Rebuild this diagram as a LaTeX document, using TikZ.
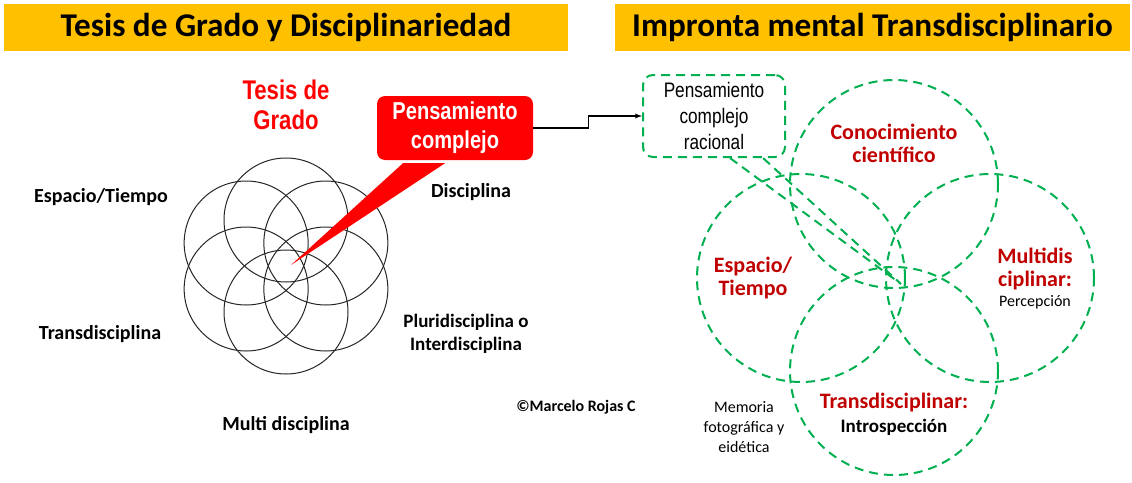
\documentclass[tikz,border=0pt]{standalone}
\usepackage{fontspec}
\setmainfont{Carlito}
\newfontfamily\narrowfont[FakeStretch=0.82]{Liberation Sans}
\usetikzlibrary{positioning}
\usetikzlibrary{arrows}
\definecolor{barYellow}{HTML}{FFC000}
\definecolor{darkRed}{HTML}{C00000}
\definecolor{dashGreen}{HTML}{00B050}
\tikzset{
        % Yellow title bars
        title_bar/.style={fill=barYellow, minimum height=47pt, inner sep=0pt, font=\bfseries\fontsize{33.2}{36}\selectfont},
        % Black labels of the left part
        label_left/.style={align=center, inner sep=0pt, font=\bfseries\fontsize{20}{23}\selectfont},
        % Red labels of the right part
        label_red/.style={align=center, inner sep=0pt, text=darkRed, font=\bfseries\fontsize{22}{23}\selectfont},
        % Plain small labels
        label_small/.style={align=center, inner sep=0pt, font=\fontsize{16}{20}\selectfont},
        % Flower circles
        flower_circle/.style={draw=black!85, line width=1pt},
        % Green dashed lines
        green_dash/.style={draw=dashGreen, line width=2pt, dash pattern=on 9pt off 6pt},
        % Green dashed circles
        idea_circle/.style={green_dash, circle, minimum size=208pt, inner sep=0pt}
}
\begin{document}
\begin{tikzpicture}[x=1pt, y=-1pt]
    \useasboundingbox (0,0) rectangle (1132,482);
    % titles
    \node[title_bar, minimum width=564pt] (bar_left) at (286,27.5) {Tesis de Grado y Disciplinariedad};
    \node[title_bar, minimum width=515pt] (bar_right) at (872.5,27.5) {Impronta mental Transdisciplinario};

    % left part
    \foreach \a in {30,90,...,330}
        \draw[flower_circle] (286,266) ++(\a:46 and -46) circle (62);
    \node[align=center, inner sep=0pt, text=red, font=\narrowfont\bfseries\fontsize{27}{30}\selectfont] (tesis) at (286,105) {Tesis de\\Grado};
    \node[label_left] (espacio_l) at (101,197) {Espacio/Tiempo};
    \node[label_left] (disciplina) at (471,192) {Disciplina};
    \node[label_left] (transdis_l) at (100,334) {Transdisciplina};
    \node[label_left, font=\bfseries\fontsize{19}{23}\selectfont] (pluri) at (466,334) {Pluridisciplina o\\Interdisciplina};
    \node[label_left] (multi_l) at (286,425) {Multi disciplina};
    \node[label_left, font=\bfseries\fontsize{16}{20}\selectfont] (autor) at (576,407) {©Marcelo Rojas C};

    \coordinate (tip_red) at (291,265);
    \node[fill=red, rounded corners=8pt, minimum width=156pt, minimum height=64pt, inner sep=0pt, text=white, align=center,
          font=\narrowfont\bfseries\fontsize{24.5}{29}\selectfont] (pens) at (455,128) {Pensamiento\\complejo};
    \fill[red] ([xshift=-52pt,yshift=-3pt]pens.south) -- ([xshift=-10pt,yshift=-3pt]pens.south) -- (tip_red) -- cycle;

    % right part
    \node[idea_circle] (cono) at (894,184) {};
    \node[idea_circle] (espa) at (801,278) {};
    \node[idea_circle] (multi) at (990,278) {};
    \node[idea_circle] (trans) at (894,371) {};

    \coordinate (tip_green) at (901,284);
    \node[green_dash, rounded corners=10pt, minimum width=142pt, minimum height=82pt, inner sep=0pt, align=center,
          font=\narrowfont\fontsize{21}{26}\selectfont] (racional) at (714,116) {Pensamiento\\complejo\\racional};
    \draw[green_dash] ([xshift=16pt]racional.south) -- (tip_green) -- ([xshift=49pt]racional.south);

    \draw[-latex, line width=1.3pt] (pens.east) -- ++(55pt,0) |- (racional.west);

    \node[label_red] (cono_lbl) at (894,143) {Conocimiento\\científico};
    \node[label_red] (espa_lbl) at (753,278) {Espacio/\\Tiempo};
    \node[label_red] (multi_lbl) at (1035,269) {Multidis\\ciplinar:};
    \node[label_small, below=5pt of multi_lbl] (percep) {Percepción};
    \node[label_red] (trans_lbl) at (894,403) {Transdisciplinar:};
    \node[label_left, font=\bfseries\fontsize{19}{22}\selectfont, below=6pt of trans_lbl] (intro) {Introspección};
    \node[label_small] (memoria) at (744,427) {Memoria\\fotográfica y\\eidética};
\end{tikzpicture}
\end{document}
